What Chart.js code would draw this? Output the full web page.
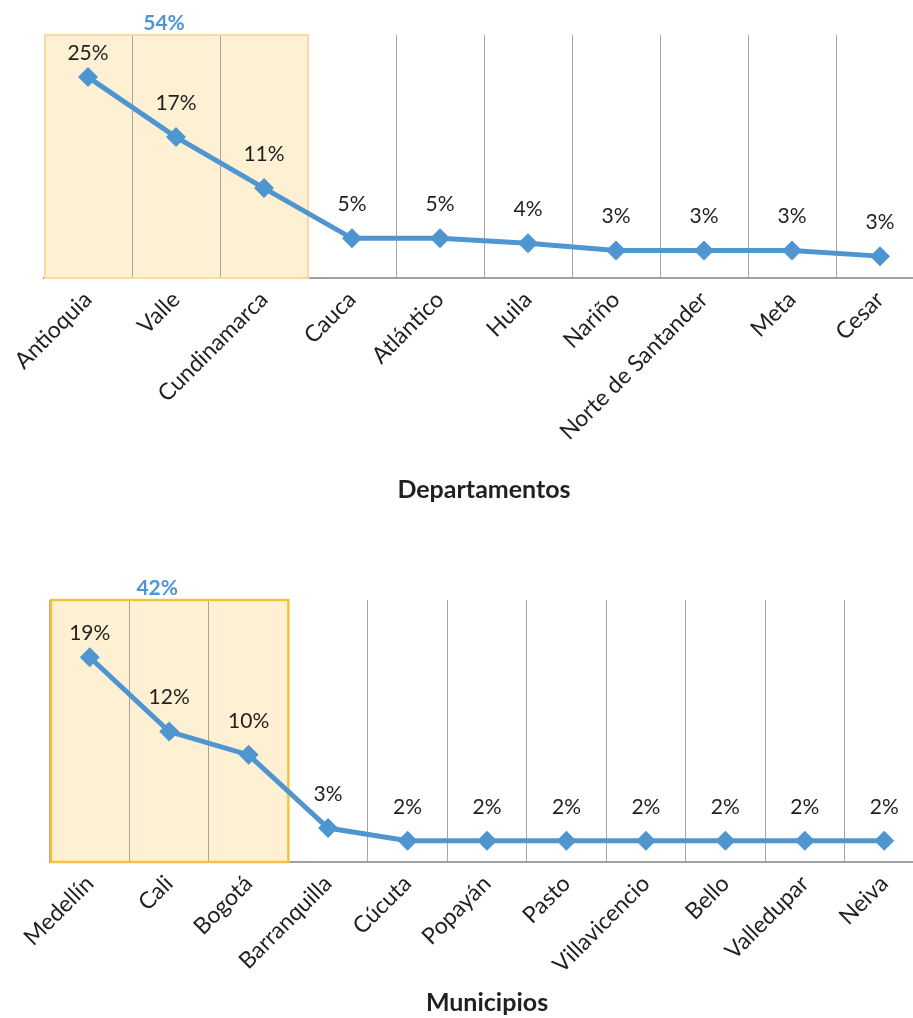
<!DOCTYPE html>
<html>
<head>
<meta charset="utf-8">
<script src="https://cdn.jsdelivr.net/npm/chart.js@4/dist/chart.umd.min.js"></script>
<style>
    html, body { margin: 0; padding: 0; background: #fff; overflow: hidden; }
    #topBox { position: absolute; left: 0; top: 0; width: 934px; height: 510px; }
    #bottomBox { position: absolute; left: 0; top: 535px; width: 934px; height: 483px; }
</style>
</head>
<body>
<div id="topBox"><canvas id="deptChart"></canvas></div>
<div id="bottomBox"><canvas id="munChart"></canvas></div>
<script>
// Data
const deptLabels = ['Antioquia', 'Valle', 'Cundinamarca', 'Cauca', 'Atlántico', 'Huila', 'Nariño', 'Norte de Santander', 'Meta', 'Cesar'];
const deptValues = [24.8, 17.4, 11.1, 4.9, 4.9, 4.3, 3.4, 3.4, 3.4, 2.7];
const deptTopShare = '54%';

const munLabels = ['Medellín', 'Cali', 'Bogotá', 'Barranquilla', 'Cúcuta', 'Popayán', 'Pasto', 'Villavicencio', 'Bello', 'Valledupar', 'Neiva'];
const munValues = [19.3, 12.3, 10.1, 3.2, 2.0, 2.0, 2.0, 2.0, 2.0, 2.0, 2.0];
const munTopShare = '42%';

const BLUE = '#4f96d1';
const TEXT = '#231f20';

Chart.defaults.font.family = 'Lato, "Open Sans", sans-serif';
Chart.defaults.color = TEXT;

// Shaded block behind the first categories + the total above it
const highlightPlugin = {
    id: 'highlight',
    beforeDraw(chart, args, opts) {
        const area = chart.chartArea;
        const x = chart.scales.x;
        const half = (x.getPixelForValue(1) - x.getPixelForValue(0)) / 2;
        const x0 = x.getPixelForValue(0) - half;
        const x1 = x.getPixelForValue(opts.count - 1) + half;
        const ctx = chart.ctx;
        ctx.save();
        ctx.fillStyle = opts.fill;
        ctx.fillRect(x0, area.top, x1 - x0, area.bottom - area.top);
        ctx.restore();
    },
    beforeDatasetsDraw(chart, args, opts) {
        const area = chart.chartArea;
        const x = chart.scales.x;
        const half = (x.getPixelForValue(1) - x.getPixelForValue(0)) / 2;
        const x0 = x.getPixelForValue(0) - half;
        const x1 = x.getPixelForValue(opts.count - 1) + half;
        const ctx = chart.ctx;
        ctx.save();
        ctx.strokeStyle = opts.border;
        ctx.lineWidth = opts.borderWidth;
        ctx.strokeRect(x0 + 1, area.top, x1 - x0 - 1, area.bottom - area.top);
        ctx.fillStyle = BLUE;
        ctx.font = 'bold 21px Lato, "Open Sans", sans-serif';
        ctx.textAlign = 'center';
        ctx.textBaseline = 'middle';
        ctx.fillText(opts.label, (x0 + x1) / 2 - 12, area.top - 12);
        ctx.restore();
    }
};

// Percentage labels above each point
const pointLabelPlugin = {
    id: 'pointLabels',
    afterDatasetsDraw(chart) {
        const ctx = chart.ctx;
        const meta = chart.getDatasetMeta(0);
        const values = chart.data.datasets[0].data;
        ctx.save();
        ctx.fillStyle = TEXT;
        ctx.font = '21px Lato, "Open Sans", sans-serif';
        ctx.textAlign = 'center';
        ctx.textBaseline = 'middle';
        meta.data.forEach((pt, i) => {
            const off = i === 0 ? 24 : 34;
            ctx.fillText(Math.round(values[i]) + '%', pt.x, pt.y - off);
        });
        ctx.restore();
    }
};

function makeChart(id, labels, values, yMax, axisTitle, pad, axisHeight, hl) {
    const ctx = document.getElementById(id).getContext('2d');
    return new Chart(ctx, {
        type: 'line',
        data: {
            labels: labels,
            datasets: [{
                data: values,
                borderColor: BLUE,
                backgroundColor: BLUE,
                borderWidth: 5,
                tension: 0,
                pointStyle: 'rectRot',
                pointRadius: 10,
                pointBorderWidth: 0,
                pointBackgroundColor: BLUE
            }]
        },
        options: {
            responsive: true,
            maintainAspectRatio: false,
            animation: false,
            devicePixelRatio: 1,
            layout: { padding: pad },
            plugins: {
                legend: { display: false },
                tooltip: { enabled: false },
                highlight: hl
            },
            scales: {
                y: { display: false, min: 0, max: yMax },
                x: {
                    offset: true,
                    grid: { offset: true, color: '#a6a6a6', lineWidth: 1, drawTicks: false },
                    border: { color: '#a0a0a0', width: 2 },
                    ticks: {
                        autoSkip: false,
                        minRotation: 45,
                        maxRotation: 45,
                        padding: 8,
                        color: TEXT,
                        font: { size: 23 }
                    },
                    title: {
                        display: true,
                        text: axisTitle,
                        color: TEXT,
                        padding: 0,
                        font: { size: 25, weight: 'bold' }
                    },
                    afterFit: (scale) => { scale.height = axisHeight; }
                }
            }
        },
        plugins: [highlightPlugin, pointLabelPlugin]
    });
}

makeChart('deptChart', deptLabels, deptValues, 30, 'Departamentos',
    { left: 44, top: 35, right: 0, bottom: 5 }, 227,
    { count: 3, label: deptTopShare, fill: '#fdf0d3', border: '#f8dba4', borderWidth: 2 });

makeChart('munChart', munLabels, munValues, 24.7, 'Municipios',
    { left: 50, top: 65, right: 0, bottom: 0 }, 156,
    { count: 3, label: munTopShare, fill: '#fdf0d3', border: '#f5c33b', borderWidth: 2.5 });
</script>
</body>
</html>
